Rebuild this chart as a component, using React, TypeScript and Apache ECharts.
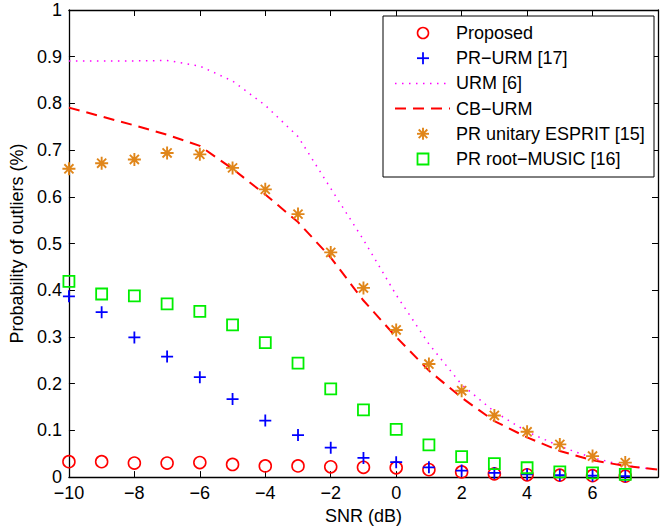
import React, { useEffect, useRef } from "react";
import * as echarts from "echarts";

const snrMarkers = [-10, -9, -8, -7, -6, -5, -4, -3, -2, -1, 0, 1, 2, 3, 4, 5, 6, 7];
const snrLines = [-10, -9, -8, -7, -6, -5, -4, -3, -2, -1, 0, 1, 2, 3, 4, 5, 6, 7, 8];

const proposed = [0.033, 0.033, 0.030, 0.030, 0.031, 0.027, 0.024, 0.024, 0.022, 0.021, 0.020, 0.016, 0.011, 0.007, 0.005, 0.004, 0.003, 0.002];
const prUrm = [0.387, 0.353, 0.299, 0.258, 0.214, 0.167, 0.121, 0.090, 0.063, 0.041, 0.032, 0.021, 0.014, 0.009, 0.006, 0.004, 0.003, 0.002];
const urm = [0.891, 0.891, 0.891, 0.892, 0.880, 0.848, 0.796, 0.729, 0.618, 0.508, 0.390, 0.285, 0.198, 0.140, 0.097, 0.066, 0.041, 0.025, 0.015];
const cbUrm = [0.791, 0.772, 0.753, 0.733, 0.709, 0.660, 0.605, 0.546, 0.470, 0.378, 0.300, 0.228, 0.170, 0.120, 0.085, 0.056, 0.036, 0.024, 0.016];
const prEsprit = [0.660, 0.672, 0.680, 0.694, 0.691, 0.662, 0.616, 0.563, 0.481, 0.405, 0.315, 0.242, 0.185, 0.132, 0.097, 0.070, 0.045, 0.031];
const prRootMusic = [0.419, 0.392, 0.388, 0.371, 0.355, 0.326, 0.288, 0.244, 0.189, 0.144, 0.102, 0.069, 0.044, 0.029, 0.020, 0.011, 0.009, 0.006];

const seriesNames = ["Proposed", "PR\u2212URM [17]", "URM [6]", "CB\u2212URM", "PR unitary ESPRIT [15]", "PR root\u2212MUSIC [16]"];

const FONT = "'Liberation Sans', Arial, Helvetica, sans-serif";
const RED = "#ff0000";
const BLUE = "#0000ff";
const MAGENTA = "#ff00ff";
const ORANGE = "#e0861a";
const GREEN = "#00ee00";

const pair = (xs: number[], ys: number[]) => ys.map((y, i) => [xs[i], y]);

function legendGraphic() {
  const boxX = 383;
  const boxY = 16;
  const boxW = 271;
  const boxH = 161;
  const rowY0 = 33;
  const rowStep = 25.2;
  const mx = 423;
  const lx0 = 395;
  const lx1 = 450;
  const tx = 456;
  const els: any[] = [
    {
      type: "rect",
      shape: { x: boxX, y: boxY, width: boxW, height: boxH },
      style: { fill: "#fff", stroke: "#000", lineWidth: 1 },
      z: 100,
    },
  ];
  const ln = (x1: number, y1: number, x2: number, y2: number, color: string, w: number, dash?: number[]) => ({
    type: "line",
    shape: { x1, y1, x2, y2 },
    style: { stroke: color, lineWidth: w, lineDash: dash },
    z: 101,
  });
  seriesNames.forEach((name, i) => {
    const y = rowY0 + i * rowStep;
    if (i === 0) {
      els.push({ type: "circle", shape: { cx: mx, cy: y, r: 5.5 }, style: { fill: "none", stroke: RED, lineWidth: 1.6 }, z: 101 });
    } else if (i === 1) {
      els.push(ln(mx - 6, y, mx + 6, y, BLUE, 1.8));
      els.push(ln(mx, y - 6, mx, y + 6, BLUE, 1.8));
    } else if (i === 2) {
      els.push(ln(lx0, y, lx1, y, MAGENTA, 1.5, [1.5, 5.5]));
    } else if (i === 3) {
      els.push(ln(lx0, y, lx1, y, RED, 2, [11, 7]));
    } else if (i === 4) {
      els.push(ln(mx - 6, y, mx + 6, y, ORANGE, 1.9));
      els.push(ln(mx, y - 6, mx, y + 6, ORANGE, 1.9));
      els.push(ln(mx - 4.3, y - 4.3, mx + 4.3, y + 4.3, ORANGE, 1.9));
      els.push(ln(mx + 4.3, y - 4.3, mx - 4.3, y + 4.3, ORANGE, 1.9));
    } else {
      els.push({ type: "rect", shape: { x: mx - 5.5, y: y - 5.5, width: 11, height: 11 }, style: { fill: "none", stroke: GREEN, lineWidth: 1.8 }, z: 101 });
    }
    els.push({
      type: "text",
      x: tx,
      y,
      style: { text: name, fill: "#000", font: `18px ${FONT}`, verticalAlign: "middle", align: "left" },
      z: 101,
    });
  });
  return els;
}

export default function App() {
  const ref = useRef<HTMLDivElement>(null);
  useEffect(() => {
    if (!ref.current) return;
    const chart = echarts.init(ref.current, undefined, { renderer: "svg" });
    const xCommon = { type: "value", min: -10, max: 8, interval: 2 };
    const yCommon = { type: "value", min: 0, max: 1, interval: 0.1 };
    const axisLine = { show: true, onZero: false, lineStyle: { color: "#000", width: 1.3 } };
    const tick = { show: true, inside: true, length: 6, lineStyle: { color: "#000", width: 1 } };
    const plusPath = "path://M0,5L10,5M5,0L5,10";
    const starPath = "path://M5,0L5,10M0,5L10,5M1.5,1.5L8.5,8.5M8.5,1.5L1.5,8.5";
    chart.setOption({
      animation: false,
      textStyle: { fontFamily: FONT },
      grid: { left: 66, top: 10, width: 598.5, height: 469, containLabel: false },
      xAxis: [
        {
          ...xCommon,
          position: "bottom",
          axisLine,
          axisTick: tick,
          splitLine: { show: false },
          axisLabel: {
            color: "#000",
            fontSize: 18,
            lineHeight: 14,
            fontFamily: FONT,
            margin: 9,
            formatter: (v: number) => (v === 8 ? "" : String(v).replace("-", "\u2212")),
          },
          name: "SNR (dB)",
          nameLocation: "middle",
          nameGap: 28,
          nameTextStyle: { color: "#000", fontSize: 18, fontFamily: FONT },
        },
        {
          ...xCommon,
          position: "top",
          axisLine,
          axisTick: tick,
          splitLine: { show: false },
          axisLabel: { show: false },
        },
      ],
      yAxis: [
        {
          ...yCommon,
          position: "left",
          axisLine,
          axisTick: tick,
          splitLine: { show: false },
          axisLabel: { color: "#000", fontSize: 18, lineHeight: 12, fontFamily: FONT, margin: 7 },
          name: "Probability of outliers (%)",
          nameLocation: "middle",
          nameRotate: 90,
          nameGap: 41,
          nameTextStyle: { color: "#000", fontSize: 18, fontFamily: FONT },
        },
        {
          ...yCommon,
          position: "right",
          axisLine,
          axisTick: tick,
          splitLine: { show: false },
          axisLabel: { show: false },
        },
      ],
      graphic: legendGraphic(),
      series: [
        {
          name: seriesNames[0],
          type: "scatter",
          data: pair(snrMarkers, proposed),
          symbol: "circle",
          symbolSize: 12,
          itemStyle: { color: "rgba(0,0,0,0)", borderColor: RED, borderWidth: 1.6, opacity: 1 },
          z: 2,
        },
        {
          name: seriesNames[1],
          type: "scatter",
          data: pair(snrMarkers, prUrm),
          symbol: plusPath,
          symbolSize: 12,
          itemStyle: { color: BLUE, borderColor: BLUE, borderWidth: 1.8, opacity: 1 },
          z: 3,
        },
        {
          name: seriesNames[2],
          type: "line",
          data: pair(snrLines, urm),
          symbol: "none",
          lineStyle: { color: MAGENTA, width: 1.5, type: [1.5, 5.5] },
          itemStyle: { color: MAGENTA },
          z: 4,
        },
        {
          name: seriesNames[3],
          type: "line",
          data: pair(snrLines, cbUrm),
          symbol: "none",
          lineStyle: { color: RED, width: 2, type: [11, 7] },
          itemStyle: { color: RED },
          z: 5,
        },
        {
          name: seriesNames[4],
          type: "scatter",
          data: pair(snrMarkers, prEsprit),
          symbol: starPath,
          symbolSize: 13,
          itemStyle: { color: ORANGE, borderColor: ORANGE, borderWidth: 1.9, opacity: 1 },
          z: 6,
        },
        {
          name: seriesNames[5],
          type: "scatter",
          data: pair(snrMarkers, prRootMusic),
          symbol: "rect",
          symbolSize: 11,
          itemStyle: { color: "rgba(0,0,0,0)", borderColor: GREEN, borderWidth: 1.8, opacity: 1 },
          z: 7,
        },
      ],
    });
    return () => chart.dispose();
  }, []);
  return (
    <div
      ref={ref}
      style={{ position: "fixed", left: 0, top: 0, width: 661, height: 530, background: "#fff" }}
    />
  );
}
